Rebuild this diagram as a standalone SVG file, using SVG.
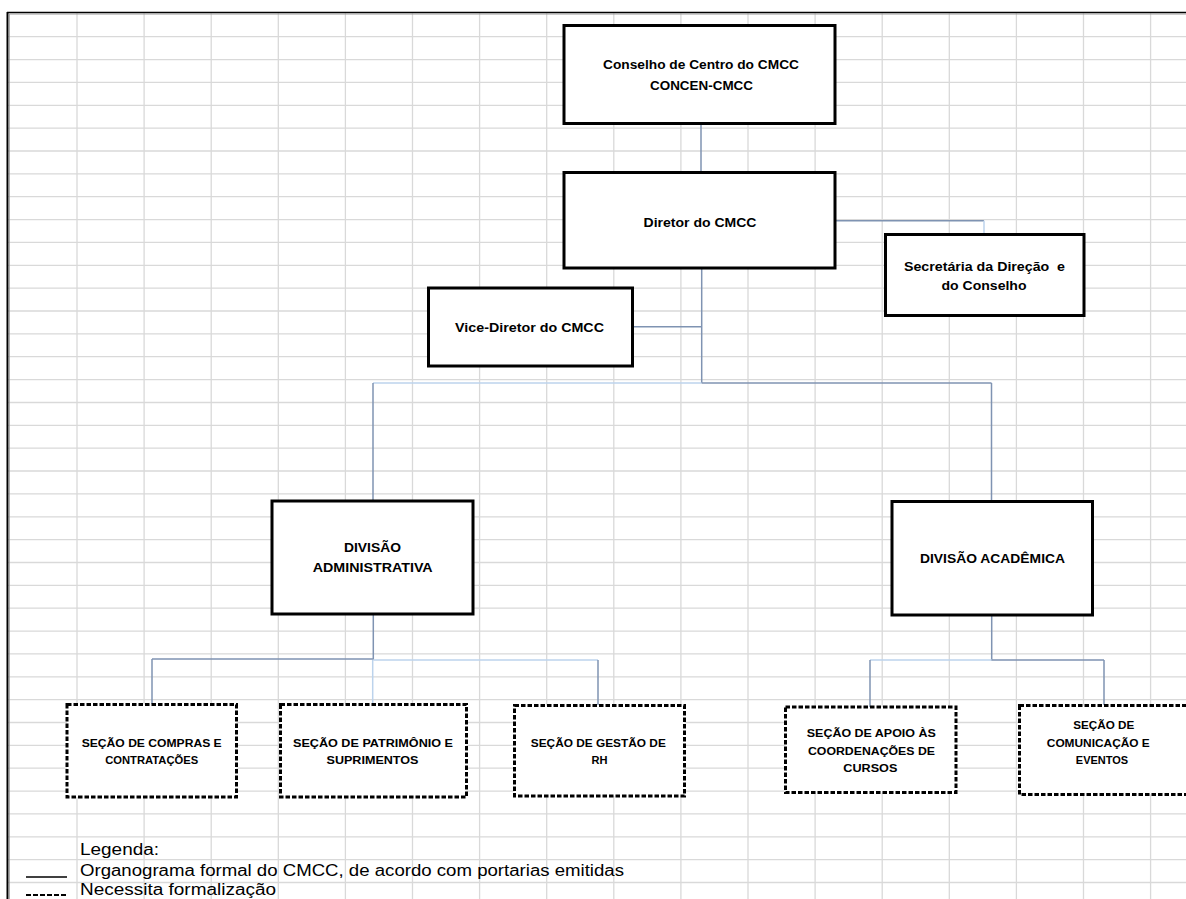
<svg xmlns="http://www.w3.org/2000/svg" width="1186" height="899" viewBox="0 0 1186 899">
<style>
.grid line{stroke:#d9d9d9;stroke-width:1.3}
.box{fill:#fff;stroke:#000;stroke-width:3}
.dbox{fill:#fff;stroke:#000;stroke-width:3;stroke-dasharray:4.5 2}
.t{font-family:"Liberation Sans",Arial,sans-serif;font-weight:bold;font-size:12px;fill:#000;text-anchor:middle}
.s{font-family:"Liberation Sans",Arial,sans-serif;font-weight:bold;font-size:11px;fill:#000;text-anchor:middle}
.lg{font-family:"Liberation Sans",Arial,sans-serif;font-size:16px;fill:#000}
.c{fill:none;stroke:#7f93b2;stroke-width:1.5}
.cl{fill:none;stroke:#bcd3ec;stroke-width:1.5}
</style>
<rect width="1186" height="899" fill="#fff"/>
<g class="grid" id="grid">
<line x1="8" y1="36.7" x2="1186" y2="36.7"/><line x1="8" y1="59.6" x2="1186" y2="59.6"/><line x1="8" y1="82.4" x2="1186" y2="82.4"/><line x1="8" y1="105.3" x2="1186" y2="105.3"/><line x1="8" y1="128.1" x2="1186" y2="128.1"/><line x1="8" y1="151" x2="1186" y2="151"/><line x1="8" y1="173.9" x2="1186" y2="173.9"/><line x1="8" y1="196.7" x2="1186" y2="196.7"/><line x1="8" y1="219.6" x2="1186" y2="219.6"/><line x1="8" y1="242.4" x2="1186" y2="242.4"/><line x1="8" y1="265.3" x2="1186" y2="265.3"/><line x1="8" y1="288.2" x2="1186" y2="288.2"/><line x1="8" y1="311" x2="1186" y2="311"/><line x1="8" y1="333.9" x2="1186" y2="333.9"/><line x1="8" y1="356.7" x2="1186" y2="356.7"/><line x1="8" y1="379.6" x2="1186" y2="379.6"/><line x1="8" y1="402.5" x2="1186" y2="402.5"/><line x1="8" y1="425.3" x2="1186" y2="425.3"/><line x1="8" y1="448.2" x2="1186" y2="448.2"/><line x1="8" y1="471" x2="1186" y2="471"/><line x1="8" y1="493.9" x2="1186" y2="493.9"/><line x1="8" y1="516.8" x2="1186" y2="516.8"/><line x1="8" y1="539.6" x2="1186" y2="539.6"/><line x1="8" y1="562.5" x2="1186" y2="562.5"/><line x1="8" y1="585.3" x2="1186" y2="585.3"/><line x1="8" y1="608.2" x2="1186" y2="608.2"/><line x1="8" y1="631.1" x2="1186" y2="631.1"/><line x1="8" y1="653.9" x2="1186" y2="653.9"/><line x1="8" y1="676.8" x2="1186" y2="676.8"/><line x1="8" y1="699.6" x2="1186" y2="699.6"/><line x1="8" y1="722.5" x2="1186" y2="722.5"/><line x1="8" y1="745.4" x2="1186" y2="745.4"/><line x1="8" y1="768.2" x2="1186" y2="768.2"/><line x1="8" y1="791.1" x2="1186" y2="791.1"/><line x1="8" y1="813.9" x2="1186" y2="813.9"/><line x1="8" y1="836.8" x2="1186" y2="836.8"/><line x1="8" y1="859.7" x2="1186" y2="859.7"/><line x1="8" y1="882.5" x2="1186" y2="882.5"/>
<line x1="77" y1="13" x2="77" y2="899"/><line x1="144.1" y1="13" x2="144.1" y2="899"/><line x1="211.2" y1="13" x2="211.2" y2="899"/><line x1="278.3" y1="13" x2="278.3" y2="899"/><line x1="345.4" y1="13" x2="345.4" y2="899"/><line x1="412.5" y1="13" x2="412.5" y2="899"/><line x1="479.6" y1="13" x2="479.6" y2="899"/><line x1="546.7" y1="13" x2="546.7" y2="899"/><line x1="613.8" y1="13" x2="613.8" y2="899"/><line x1="680.9" y1="13" x2="680.9" y2="899"/><line x1="748" y1="13" x2="748" y2="899"/><line x1="815.1" y1="13" x2="815.1" y2="899"/><line x1="882.2" y1="13" x2="882.2" y2="899"/><line x1="949.3" y1="13" x2="949.3" y2="899"/><line x1="1016.4" y1="13" x2="1016.4" y2="899"/><line x1="1083.5" y1="13" x2="1083.5" y2="899"/><line x1="1150.6" y1="13" x2="1150.6" y2="899"/>
</g>
<g id="frame">
<line x1="7" y1="12.5" x2="1186" y2="12.5" stroke="#000" stroke-width="1.5"/>
<line x1="9" y1="14" x2="1186" y2="14" stroke="#9a9a9a" stroke-width="1"/>
<line x1="7.5" y1="12" x2="7.5" y2="899" stroke="#000" stroke-width="2"/>
<line x1="9.3" y1="14" x2="9.3" y2="899" stroke="#9a9a9a" stroke-width="1"/>
</g>
<g id="connectors">
<path class="c" d="M701,124 V172"/>
<path class="c" d="M835,220.7 H984"/>
<path class="cl" d="M984,220.7 V234"/>
<path class="c" d="M633,326.7 H701.7"/>
<path class="c" d="M701.7,268 V383"/>
<path class="cl" d="M373,383 H701.7"/>
<path class="c" d="M701.7,383 H991.5"/>
<path class="c" d="M373,383 V501"/>
<path class="c" d="M991.5,383 V501"/>
<path class="c" d="M373.3,614 V659 H152"/>
<path class="cl" d="M373.3,660 H598"/>
<path class="c" d="M152,659 V704"/>
<path class="cl" d="M372.7,660 V704"/>
<path class="c" d="M598,660 V705"/>
<path class="c" d="M991.7,615 V660 H1104"/>
<path class="cl" d="M870,660 H991.7"/>
<path class="c" d="M870,660 V707"/>
<path class="c" d="M1104,660 V705"/>
</g>
<g id="conselho">
<rect class="box" x="564" y="25.5" width="271" height="98"/>
<text class="t" x="701" y="68.5" textLength="196" lengthAdjust="spacingAndGlyphs">Conselho de Centro do CMCC</text>
<text class="t" x="701.5" y="89.5" textLength="103" lengthAdjust="spacingAndGlyphs">CONCEN-CMCC</text>
</g>
<g id="diretor">
<rect class="box" x="564" y="172.5" width="271" height="95.5"/>
<text class="t" x="700" y="226.5" textLength="113" lengthAdjust="spacingAndGlyphs">Diretor do CMCC</text>
</g>
<g id="secretaria">
<rect class="box" x="885.5" y="234.5" width="198.5" height="81"/>
<text class="t" x="984.5" y="271" textLength="161" lengthAdjust="spacingAndGlyphs" xml:space="preserve">Secretária da Direção  e</text>
<text class="t" x="984" y="289.5" textLength="85" lengthAdjust="spacingAndGlyphs">do Conselho</text>
</g>
<g id="vice">
<rect class="box" x="428.5" y="288" width="204" height="78"/>
<text class="t" x="529.5" y="331.5" textLength="149" lengthAdjust="spacingAndGlyphs">Vice-Diretor do CMCC</text>
</g>
<g id="div-adm">
<rect class="box" x="272" y="501" width="201" height="113"/>
<text class="t" x="372.5" y="551.5" textLength="57" lengthAdjust="spacingAndGlyphs">DIVISÃO</text>
<text class="t" x="372.7" y="571.5" textLength="120" lengthAdjust="spacingAndGlyphs">ADMINISTRATIVA</text>
</g>
<g id="div-acad">
<rect class="box" x="892" y="501.5" width="200.5" height="113.5"/>
<text class="t" x="992.5" y="563" textLength="145" lengthAdjust="spacingAndGlyphs">DIVISÃO ACADÊMICA</text>
</g>
<g id="sec-compras">
<rect class="dbox" x="67" y="704.5" width="169.5" height="92.5"/>
<text class="s" x="151.7" y="746.5" textLength="140" lengthAdjust="spacingAndGlyphs">SEÇÃO DE COMPRAS E</text>
<text class="s" x="151.7" y="764" textLength="93" lengthAdjust="spacingAndGlyphs">CONTRATAÇÕES</text>
</g>
<g id="sec-patrimonio">
<rect class="dbox" x="280.5" y="704.5" width="186" height="92.5"/>
<text class="s" x="373" y="746.5" textLength="160" lengthAdjust="spacingAndGlyphs">SEÇÃO DE PATRIMÔNIO E</text>
<text class="s" x="372.5" y="764" textLength="92" lengthAdjust="spacingAndGlyphs">SUPRIMENTOS</text>
</g>
<g id="sec-rh">
<rect class="dbox" x="514.5" y="705.5" width="170" height="90.5"/>
<text class="s" x="598.3" y="746.5" textLength="135" lengthAdjust="spacingAndGlyphs">SEÇÃO DE GESTÃO DE</text>
<text class="s" x="599.5" y="764" textLength="16" lengthAdjust="spacingAndGlyphs">RH</text>
</g>
<g id="sec-apoio">
<rect class="dbox" x="785.5" y="707" width="170.5" height="85.5"/>
<text class="s" x="871.3" y="736.5" textLength="129" lengthAdjust="spacingAndGlyphs">SEÇÃO DE APOIO ÀS</text>
<text class="s" x="871.5" y="755" textLength="127" lengthAdjust="spacingAndGlyphs">COORDENAÇÕES DE</text>
<text class="s" x="870.3" y="771.5" textLength="54" lengthAdjust="spacingAndGlyphs">CURSOS</text>
</g>
<g id="sec-comunicacao">
<rect class="dbox" x="1019.5" y="705.5" width="170" height="89"/>
<text class="s" x="1103.7" y="728.5" textLength="61" lengthAdjust="spacingAndGlyphs">SEÇÃO DE</text>
<text class="s" x="1098.3" y="746.5" textLength="103" lengthAdjust="spacingAndGlyphs">COMUNICAÇÃO E</text>
<text class="s" x="1102" y="764">EVENTOS</text>
</g>
<g id="legend">
<text class="lg" x="80" y="855" textLength="79" lengthAdjust="spacingAndGlyphs">Legenda:</text>
<line x1="26" y1="877" x2="67" y2="877" stroke="#000" stroke-width="1.5"/>
<text class="lg" x="80" y="876" textLength="544" lengthAdjust="spacingAndGlyphs">Organograma formal do CMCC, de acordo com portarias emitidas</text>
<line x1="26" y1="895" x2="67" y2="895" stroke="#000" stroke-width="2" stroke-dasharray="5 2"/>
<text class="lg" x="80" y="895" textLength="196" lengthAdjust="spacingAndGlyphs">Necessita formalização</text>
</g>
</svg>
